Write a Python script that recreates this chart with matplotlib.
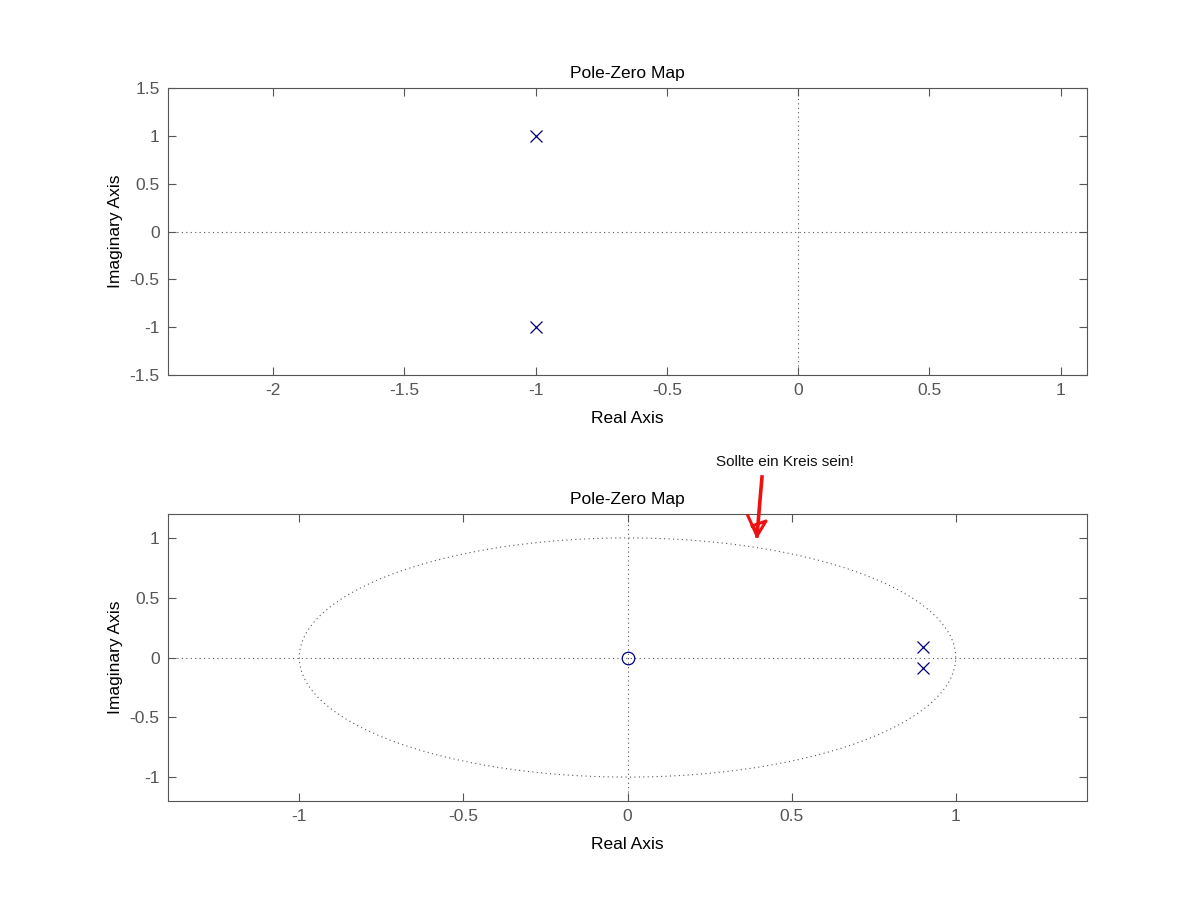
import numpy as np
import matplotlib
matplotlib.use("Agg")
import matplotlib.pyplot as plt

plt.rcParams.update({"font.family": ["Liberation Sans", "DejaVu Sans"], "font.size": 12})

# top system: two poles, no zeros
poles_top = [complex(-1, 1), complex(-1, -1)]
zeros_top = []
# bottom system (discrete): one zero at origin, two poles near 0.9
poles_bot = [complex(0.9, 0.09), complex(0.9, -0.09)]
zeros_bot = [0j]

xt_top = [-2, -1.5, -1, -0.5, 0, 0.5, 1]
yt_top = [-1.5, -1, -0.5, 0, 0.5, 1, 1.5]
xt_bot = [-1, -0.5, 0, 0.5, 1]
yt_bot = [-1, -0.5, 0, 0.5, 1]

W, H = 1201, 900
fig = plt.figure(figsize=(W / 100, H / 100), dpi=100)
GREY = "#555555"
POLE = "#000080"
LAB = 12.5


def px(x0, y0, x1, y1):
    return [x0 / W, 1 - y1 / H, (x1 - x0) / W, (y1 - y0) / H]


def style(ax, xlim, ylim, xt, yt):
    ax.set_xlim(*xlim)
    ax.set_ylim(*ylim)
    ax.set_xticks(xt)
    ax.set_yticks(yt)
    ax.set_xticklabels([f"{v:g}" for v in xt])
    ax.set_yticklabels([f"{v:g}" for v in yt])
    ax.tick_params(direction="in", top=True, right=True, length=6, width=0.8,
                   colors=GREY, labelsize=12.5, pad=6)
    for sp in ax.spines.values():
        sp.set_edgecolor(GREY)
        sp.set_linewidth(0.8)
    ax.axhline(0, color="#555555", lw=0.8, ls=(0, (1, 3)), zorder=1)
    ax.axvline(0, color="#555555", lw=0.8, ls=(0, (1, 3)), zorder=1)
    ax.set_title("Pole-Zero Map", fontsize=LAB, pad=7)
    ax.set_xlabel("Real Axis", fontsize=LAB, labelpad=9)
    ax.set_ylabel("Imaginary Axis", fontsize=LAB, labelpad=5)


def pzplot(ax, poles, zeros):
    if poles:
        ax.plot(np.real(poles), np.imag(poles), "x", color=POLE, ms=9, mew=0.9,
                ls="none", zorder=3)
    if zeros:
        ax.plot(np.real(zeros), np.imag(zeros), "o", mfc="none", mec=POLE, ms=9,
                mew=0.9, ls="none", zorder=3)


ax1 = fig.add_axes(px(168, 88, 1087, 375))
style(ax1, (-2.4, 1.1), (-1.5, 1.5), xt_top, yt_top)
pzplot(ax1, poles_top, zeros_top)

ax2 = fig.add_axes(px(168, 514, 1087, 801))
style(ax2, (-1.4, 1.4), (-1.2, 1.2), xt_bot, yt_bot)
th = np.linspace(0, 2 * np.pi, 400)
ax2.plot(np.cos(th), np.sin(th), color="#555555", lw=0.8, ls=(0, (1, 3)), zorder=1)
pzplot(ax2, poles_bot, zeros_bot)

# handwritten red note
fig.text(785 / W, 1 - 462 / H, "Sollte ein Kreis sein!", ha="center", va="center",
         fontsize=11, family=["Liberation Sans Narrow", "Liberation Sans"],
         color="#111111")
tr = fig.transFigure


def fpt(x, y):
    return x / W, 1 - y / H


shaft = [fpt(762, 477), fpt(760, 500), fpt(757, 536)]
fig.add_artist(plt.Line2D([p[0] for p in shaft], [p[1] for p in shaft],
                          transform=tr, color="#ee1111", lw=2.6))
head = [fpt(748, 516), fpt(757, 536), fpt(766, 521), fpt(752, 526), fpt(758, 532)]
fig.add_artist(plt.Line2D([p[0] for p in head], [p[1] for p in head],
                          transform=tr, color="#ee1111", lw=2.2))

fig.savefig("out.png", dpi=100, facecolor="white")
